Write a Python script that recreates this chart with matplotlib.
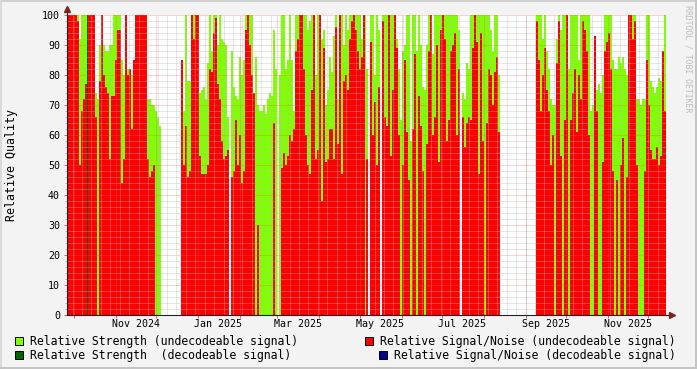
import numpy as np
import matplotlib
matplotlib.use("Agg")
import matplotlib.pyplot as plt
from matplotlib.patches import Rectangle
import matplotlib.dates as mdates
from datetime import datetime, timedelta

plt.rcParams['font.family'] = ['DejaVu Sans Mono']

# graph time span (300 columns, ~1.48 days each)
t_start = datetime(2024, 9, 25, 20)
t_days = 444.4

# Relative strength (undecodeable signal)
strength = [
    100, 100, 100, 100, 100, 100, 92, 100, 100, 100, 100, 100, 100, 100, 74, 72, 90, 88, 90, 88,
    88, 90, 90, 100, 100, 100, 100, 85, 80, 80, 82, 82, 80, 80, 100, 100, 100, 100, 100, 100,
    72, 72, 70, 70, 68, 66, 63, None, None, None,
    None, None, None, None, None, None, None, 64, 68, 100, 78, 78, 100, 100, 100, 100, 74, 75, 76, 72,
    84, 100, 88, 100, 100, 90, 100, 92, 91, 90, 66, None, 88, 76, 73, 72, 86, 80, 85, 100,
    100, 100, 100, 72, 86, 70, 68, 68, 70, 67,
    72, 74, 73, 95, 82, None, 80, 100, 100, 82, 85, 100, 85, 68, 100, 100, 100, 100, 100, 100,
    95, 98, 100, 100, 80, 100, 100, 92, 95, 70, 75, 86, 81, 93, 100, 72, 100, 100, 90, 100,
    95, 100, 100, 100, 100, 100, 100, 92, 100, 100,
    82, None, 100, 100, 80, 100, 95, None, 100, 100, 100, 86, 100, 100, 100, 92, 82, 65, 88, 90,
    100, 100, 58, 100, 100, 88, 100, 90, 76, 75, 90, 100, 100, 87, 100, 100, 100, 100, 100, 100,
    100, 100, 100, 100, 100, 100, 95, None, 74, 72,
    84, 82, 100, 100, 100, 100, 100, 100, 100, 100, 100, 100, 95, 88, 100, 100, 80, None, None, None,
    None, None, None, None, None, None, None, None, None, None, None, None, None, None, None, 100,
    100, 100, 92, 100, 88, 82, 72, 70, 70, 92, 100, 95, 100, 100,
    100, 82, 100, 100, 100, 100, 85, 100, 100, 100, 100, 100, 68, 70, 76, 75, 77, 74, 80, 100,
    100, 100, 100, 85, 82, 82, 86, 84, 86, 82, 80, 100, 100, 100, 100, 72, 72, 70, 72, 72,
    100, 100, 78, 76, 74, 76, 79, 78, 88, 100,
]

# Relative Signal/Noise (undecodeable signal)
snr = [
    100, 100, 100, 100, 100, 98, 50, 68, 72, 77, 100, 100, 100, 100, 66, 0, 78, 100, 80, 76,
    74, 52, 73, 73, 85, 95, 95, 44, 52, 100, 80, 82, 62, 85, 100, 100, 100, 100, 100, 100,
    52, 46, 48, 50, 0, 0, 0, None, None, None,
    None, None, None, None, None, None, None, 85, 50, 63, 46, 48, 100, 92, 100, 100, 53, 47, 47, 47,
    50, 82, 81, 94, 99, 77, 72, 58, 52, 53, 55, None, 46, 48, 65, 50, 60, 44, 48, 95,
    100, 90, 80, 74, 0, 30, 0, 0, 0, 0,
    0, 0, 0, 64, 0, None, 0, 49, 54, 50, 53, 60, 58, 62, 88, 92, 100, 100, 82, 60,
    50, 47, 75, 100, 52, 55, 100, 38, 89, 51, 52, 62, 62, 52, 96, 57, 100, 47, 78, 80,
    75, 92, 98, 100, 95, 88, 82, 86, 100, 0,
    52, None, 91, 60, 71, 50, 76, None, 98, 66, 63, 100, 53, 75, 100, 89, 60, 0, 50, 85,
    61, 45, 0, 62, 87, 0, 73, 63, 48, 0, 57, 88, 100, 60, 66, 90, 51, 95, 100, 92,
    58, 65, 88, 90, 94, 60, 82, None, 66, 56,
    64, 66, 65, 89, 100, 91, 47, 94, 58, 0, 64, 82, 80, 70, 81, 86, 61, None, None, None,
    None, None, None, None, None, None, None, None, None, None, None, None, None, None, None, 98,
    85, 68, 80, 89, 75, 68, 50, 60, 0, 84, 98, 53, 0, 65,
    100, 0, 65, 74, 82, 61, 80, 72, 98, 95, 88, 60, 0, 0, 93, 68, 0, 0, 51, 88,
    91, 94, 82, 48, 0, 45, 0, 50, 59, 0, 46, 100, 100, 92, 98, 50, 0, 0, 0, 48,
    85, 70, 55, 52, 52, 56, 50, 53, 88, 68,
]

# decodeable signal - only a single sample shows up
dec_strength_idx = [10]
dec_strength = [100]
dec_snr_idx = []
dec_snr = []

label_months = [(2024, 11), (2025, 1), (2025, 3), (2025, 5), (2025, 7), (2025, 9), (2025, 11)]
tick_labels = ['Nov 2024', 'Jan 2025', 'Mar 2025', 'May 2025', 'Jul 2025', 'Sep 2025', 'Nov 2025']

legend_labels = ['Relative Strength (undecodeable signal)',
                 'Relative Signal/Noise (undecodeable signal)',
                 'Relative Strength  (decodeable signal)',
                 'Relative Signal/Noise (decodeable signal)']
legend_colors = ['#7FFF00', '#FF0000', '#006400', '#00008B']

c_green, c_red, c_dgreen, c_blue = legend_colors
c_grid = '#BABABA'
c_mgrid = '#E86060'
c_arrow = '#802020'
c_axis = '#202030'

W, H = 697, 369
strength = np.array(strength, dtype=float)
snr = np.array(snr, dtype=float)
n = len(strength)
x0 = mdates.date2num(t_start)
step = t_days / n
x = x0 + step * np.arange(n)

fig = plt.figure(figsize=(W / 100, H / 100), dpi=100, facecolor='#F3F3F3')
ax = fig.add_axes([67 / W, 1 - 315 / H, 599 / W, 300 / H])
ax.set_facecolor('white')

ok = ~np.isnan(strength)
ax.bar(x[ok], strength[ok], width=step, align='edge', color=c_green,
       linewidth=0, antialiased=False, zorder=1)
ok = ~np.isnan(snr)
ax.bar(x[ok], snr[ok], width=step, align='edge', color=c_red,
       linewidth=0, antialiased=False, zorder=1.1)
ax.bar(x[dec_strength_idx], dec_strength, width=step * 0.6, align='edge', color=c_dgreen,
       linewidth=0, antialiased=False, zorder=1.2)
if dec_snr_idx:
    ax.bar(x[dec_snr_idx], dec_snr, width=step, align='edge', color=c_blue,
           linewidth=0, antialiased=False, zorder=1.3)

ax.set_xlim(x0, x0 + t_days)
ax.set_ylim(0, 100)

# grid: weeks (minor), month starts (major), drawn over the data like rrdtool does
d = t_start.date() + timedelta(days=1)
while d.weekday() != 0:
    d += timedelta(days=1)
while mdates.date2num(d) < x0 + t_days:
    ax.axvline(mdates.date2num(d), color=c_grid, alpha=0.7, lw=0.72, ls=(0, (1, 1)), zorder=2.4)
    d += timedelta(days=7)

month_starts = []
y, m = 2024, 10
while mdates.date2num(datetime(y, m, 1)) < x0 + t_days:
    month_starts.append(mdates.date2num(datetime(y, m, 1)))
    y, m = (y + 1, 1) if m == 12 else (y, m + 1)
ax.set_xticks(month_starts, minor=True)
ax.grid(axis='x', which='minor', color=c_mgrid, alpha=0.55, lw=0.72, ls=(0, (1, 1)))

label_pos = [mdates.date2num(datetime(yy, mm, 16)) for yy, mm in label_months]
ax.set_xticks(label_pos, tick_labels)
ax.tick_params(axis='x', which='major', length=0, pad=2.6, labelsize=7.2)
ax.tick_params(axis='x', which='minor', length=2.2, width=0.72, color=c_mgrid, direction='out')

ax.set_yticks(np.arange(0, 101, 10))
ax.set_yticks(np.arange(0, 101, 2), minor=True)
ax.grid(axis='y', which='minor', color=c_grid, alpha=0.7, lw=0.72, ls=(0, (1, 1)))
ax.grid(axis='y', which='major', color=c_mgrid, alpha=0.55, lw=0.72, ls=(0, (1, 1)))
ax.tick_params(axis='y', which='major', length=2, width=0.72, color=c_mgrid, pad=3, labelsize=7.2)
ax.tick_params(axis='y', which='minor', length=1.2, width=0.72, color=c_grid)
ax.set_axisbelow(False)

for s in ['top', 'right']:
    ax.spines[s].set_visible(False)
for s in ['left', 'bottom']:
    ax.spines[s].set_color(c_axis)
    ax.spines[s].set_linewidth(0.8)
    ax.spines[s].set_zorder(3)

# axis arrows
ax.plot([0, 0], [1, 1.022], transform=ax.transAxes, color=c_axis, lw=0.8, clip_on=False)
ax.plot(0, 1.02, marker='^', ms=4.5, color=c_arrow, mec=c_arrow, transform=ax.transAxes, clip_on=False)
ax.plot([1, 1.01], [0, 0], transform=ax.transAxes, color=c_axis, lw=0.8, clip_on=False)
ax.plot(1.01, 0, marker='>', ms=4.5, color=c_arrow, mec=c_arrow, transform=ax.transAxes, clip_on=False)

fig.text(12 / W, 1 - 165 / H, 'Relative Quality', rotation=90, ha='center', va='center', fontsize=8.4)
fig.text(688 / W, 1 - 5 / H, 'RRDTOOL / TOBI OETIKER', rotation=270, ha='center', va='top',
         fontsize=5.9, color='#BDBDBD')

# legend, laid out like rrdtool does
legend_pos = [(15, 337, 30, 345), (365, 337, 380, 345), (15, 351, 30, 359.5), (379, 351, 394, 359.5)]
for (sx, sy, tx, ty), lab, col in zip(legend_pos, legend_labels, legend_colors):
    fig.add_artist(Rectangle((sx / W, 1 - (sy + 8) / H), 8 / W, 8 / H, transform=fig.transFigure,
                             facecolor=col, edgecolor='black', linewidth=0.7))
    fig.text(tx / W, 1 - ty / H, lab, ha='left', va='baseline', fontsize=8.3)

# 3d-ish frame around the image
fig.add_artist(plt.Line2D([0, 1], [1 - 1 / H, 1 - 1 / H], transform=fig.transFigure, color='#D0D0D0', lw=1.4))
fig.add_artist(plt.Line2D([1 / W, 1 / W], [0, 1], transform=fig.transFigure, color='#DADADA', lw=1.4))
fig.add_artist(plt.Line2D([0, 1], [1 / H, 1 / H], transform=fig.transFigure, color='#C4C4C4', lw=1.4))
fig.add_artist(plt.Line2D([1 - 1 / W, 1 - 1 / W], [0, 1], transform=fig.transFigure, color='#C4C4C4', lw=1.4))

fig.savefig('out.png', dpi=100, facecolor=fig.get_facecolor())
